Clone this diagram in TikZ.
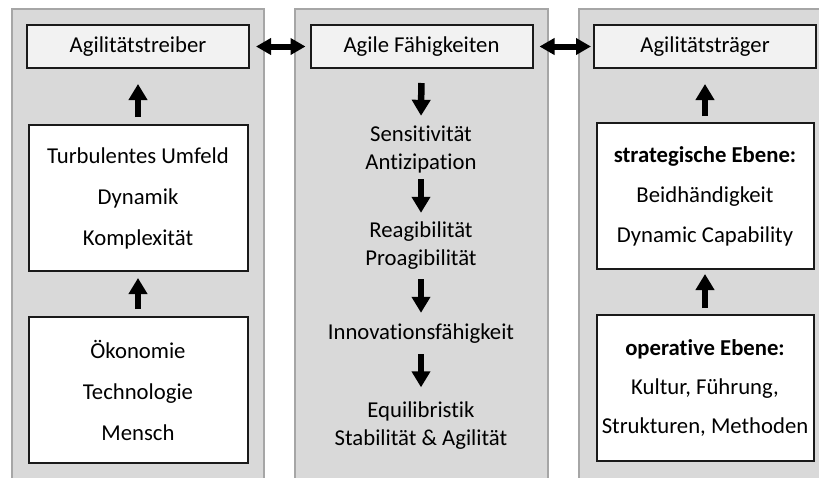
\documentclass[tikz,border=0pt]{standalone}
\usepackage{fontspec}
\setmainfont[Ligatures={NoCommon}]{Carlito}
\usetikzlibrary{arrows.meta}
\definecolor{panelfill}{HTML}{D9D9D9}
\definecolor{panelline}{HTML}{A6A6A6}
\definecolor{titlefill}{HTML}{F2F2F2}
\definecolor{boxline}{HTML}{1A1A1A}
\begin{document}
\begin{tikzpicture}[x=1pt,y=-1pt,
  panel/.style={fill=panelfill,draw=panelline,line width=1.5pt},
  titlebox/.style={draw=boxline,fill=titlefill,line width=2pt,
    minimum width=222pt,minimum height=43pt,inner sep=0pt},
  listbox/.style={draw=boxline,fill=white,line width=2pt,
    minimum width=219pt,minimum height=146pt,inner sep=0pt,align=center,
    font=\fontsize{22.7}{41}\selectfont},
  flowtext/.style={align=center,inner sep=0pt},
  bigarrow/.style={line width=6.5pt,-{Triangle[width=18pt,length=16pt]}},
  dblarrow/.style={line width=6pt,
    {Triangle[width=16pt,length=15pt]}-{Triangle[width=16pt,length=15pt]}},
  font=\fontsize{22.7}{28}\selectfont]

\useasboundingbox (0,0) rectangle (819,477);
\clip (0,0) rectangle (819,477);

% three grey columns
\draw[panel] (12,9) rectangle (264,495);
\draw[panel] (295,9) rectangle (548,495);
\draw[panel] (579,9) rectangle (840,495);

% column headers
\node[titlebox] (treiber) at (138,46.5) {Agilitätstreiber};
\node[titlebox] (faehig) at (421.5,46.5) {Agile Fähigkeiten};
\node[titlebox] (traeger) at (705,46.5) {Agilitätsträger};

% left column
\node[listbox] (umfeld) at (138,198) {Turbulentes Umfeld\\Dynamik\\Komplexität};
\node[listbox] (oekon) at (138,390) {Ökonomie\\Technologie\\Mensch};

% right column
\node[listbox,minimum width=217pt,font=\fontsize{22.7}{40}\selectfont] (strat) at (705,196)
  {\textbf{strategische Ebene:}\\Beidhändigkeit\\Dynamic Capability};
\node[listbox,minimum width=217pt,font=\fontsize{22.7}{39}\selectfont] (oper) at (705,388)
  {\textbf{operative Ebene:}\\Kultur, Führung,\\Strukturen, Methoden};

% middle column
\node[flowtext,minimum height=60pt] (sens) at (421,150) {Sensitivität\\Antizipation};
\node[flowtext,minimum height=60pt] (reag) at (421,246) {Reagibilität\\Proagibilität};
\node[flowtext,minimum height=36pt] (innov) at (421,334) {Innovationsfähigkeit};
\node[flowtext,minimum height=60pt] (equi) at (421,425.5) {Equilibristik\\Stabilität \& Agilität};

% arrows
\draw[bigarrow,shorten <=7pt,shorten >=15pt] (umfeld.north) -- (treiber.south);
\draw[bigarrow,shorten <=7pt,shorten >=6pt] (oekon.north) -- (umfeld.south);
\draw[bigarrow,shorten <=6pt,shorten >=15pt] (strat.north) -- (traeger.south);
\draw[bigarrow,shorten <=6pt,shorten >=4pt] (oper.north) -- (strat.south);

\draw[bigarrow,shorten <=14pt,shorten >=4pt] (faehig.south) -- (sens.north);
\draw[bigarrow,shorten <=-1pt,shorten >=3pt] (sens.south) -- (reag.north);
\draw[bigarrow,shorten <=3pt,shorten >=3pt] (reag.south) -- (innov.north);
\draw[bigarrow,shorten <=2pt,shorten >=8pt] (innov.south) -- (equi.north);

\draw[dblarrow,shorten <=6pt,shorten >=4pt] (treiber.east) -- (faehig.west);
\draw[dblarrow,shorten <=6pt,shorten >=2pt] (faehig.east) -- (traeger.west);
\end{tikzpicture}
\end{document}
